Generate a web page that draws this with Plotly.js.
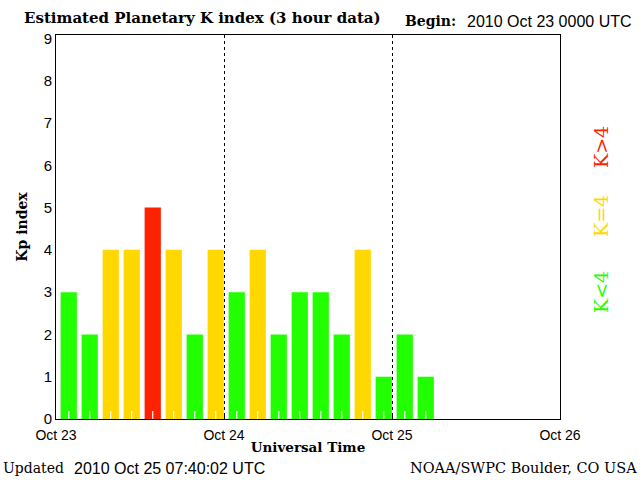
<!DOCTYPE html>
<html>
<head>
<meta charset="utf-8">
<script src="https://cdn.plot.ly/plotly-3.0.1.min.js"></script>
<style>html,body{margin:0;padding:0;background:#fff;}#chart{width:640px;height:480px;}</style>
</head>
<body>
<div id="chart"></div>
<script>
// Data
const startDate = "2010-10-23T00:00:00Z";
const kpValues = [3, 2, 4, 4, 5, 4, 2, 4, 3, 4, 2, 3, 3, 2, 4, 1, 2, 1];
const dayTicks = ["2010-10-23", "2010-10-24", "2010-10-25", "2010-10-26"];
const dayLabels = ["Oct 23", "Oct 24", "Oct 25", "Oct 26"];
const yTicks = [0, 1, 2, 3, 4, 5, 6, 7, 8, 9];

const HOUR = 3600 * 1000;
const t0 = Date.parse(startDate);
function fmt(ms) { return new Date(ms).toISOString().replace("T", " ").replace("Z", "").slice(0, 19); }

const barX = kpValues.map((v, i) => fmt(t0 + (i * 3 + 1.82) * HOUR));
const colors = kpValues.map(v => v < 4 ? "#22ff00" : (v === 4 ? "#ffd800" : "#ff2200"));

const serif = "DejaVu Serif, Liberation Serif, serif";
const sans = "Liberation Sans, Arial, sans-serif";

const traces = [
  {
    type: "bar", x: barX, y: kpValues,
    width: kpValues.map(() => 2.32 * HOUR),
    marker: { color: colors, line: { width: 0 } },
    hoverinfo: "skip"
  },
  {
    // small white index marks at the foot of each bar
    type: "bar", x: barX, y: kpValues.map(() => 0.19), base: 0,
    width: kpValues.map(() => 0.17 * HOUR),
    marker: { color: "#ffffff", line: { width: 0 } },
    hoverinfo: "skip"
  }
];

function px(x) { return (x - 56) / 504; }
function py(y) { return (419 - y) / 384; }

const annotations = [
  { text: "<b>Estimated Planetary K index (3 hour data)</b>", x: px(22), y: py(18), xanchor: "left", yanchor: "middle", font: { family: serif, size: 15, color: "#000" } },
  { text: "<b>Begin:</b>", x: px(403), y: py(21), xanchor: "left", yanchor: "middle", font: { family: serif, size: 14, color: "#000" } },
  { text: "2010 Oct 23 0000 UTC", x: px(465), y: py(21), xanchor: "left", yanchor: "middle", font: { family: sans, size: 16, color: "#000" } },
  { text: "Updated", x: px(1), y: py(468), xanchor: "left", yanchor: "middle", font: { family: serif, size: 14, color: "#000" } },
  { text: "2010 Oct 25 07:40:02 UTC", x: px(72), y: py(468), xanchor: "left", yanchor: "middle", font: { family: sans, size: 16, color: "#000" } },
  { text: "NOAA/SWPC Boulder, CO USA", x: px(639), y: py(468), xanchor: "right", yanchor: "middle", font: { family: serif, size: 14.5, color: "#000" } },
  { text: "K&gt;4", x: px(601), y: py(147), xanchor: "center", yanchor: "middle", textangle: -90, font: { family: serif, size: 19, color: "#ff2200" } },
  { text: "K=4", x: px(601), y: py(216), xanchor: "center", yanchor: "middle", textangle: -90, font: { family: serif, size: 19, color: "#ffd800" } },
  { text: "K&lt;4", x: px(601), y: py(292), xanchor: "center", yanchor: "middle", textangle: -90, font: { family: serif, size: 19, color: "#22ff00" } }
].map(a => Object.assign({ xref: "paper", yref: "paper", showarrow: false }, a));

const layout = {
  width: 640, height: 480,
  margin: { l: 56, r: 80, t: 35, b: 61, pad: 0 },
  paper_bgcolor: "#ffffff", plot_bgcolor: "#ffffff",
  showlegend: false, hovermode: false,
  barmode: "overlay", bargap: 0.1,
  xaxis: {
    type: "date", range: [dayTicks[0], dayTicks[3]],
    tickmode: "array", tickvals: dayTicks, ticktext: dayLabels,
    ticks: "inside", ticklen: 6, tickcolor: "#000", tickwidth: 1,
    ticklabelstandoff: 3,
    showgrid: true, gridcolor: "#000", griddash: "dot", gridwidth: 1,
    showline: true, linecolor: "#000", linewidth: 1, mirror: true,
    zeroline: false,
    tickfont: { family: sans, size: 14, color: "#000" },
    title: { text: "<b>Universal Time</b>", font: { family: serif, size: 13.5, color: "#000" }, standoff: 0 },
    fixedrange: true
  },
  yaxis: {
    range: [0, 9.08],
    tickmode: "array", tickvals: yTicks, ticktext: yTicks.map(String),
    ticks: "", showgrid: false, zeroline: false,
    showline: true, linecolor: "#000", linewidth: 1, mirror: true,
    tickfont: { family: sans, size: 15, color: "#000" },
    title: { text: "<b>Kp index</b>", font: { family: serif, size: 14, color: "#000" }, standoff: 12 },
    fixedrange: true
  },
  annotations: annotations
};

Plotly.newPlot("chart", traces, layout, { displayModeBar: false, staticPlot: true });
</script>
</body>
</html>
